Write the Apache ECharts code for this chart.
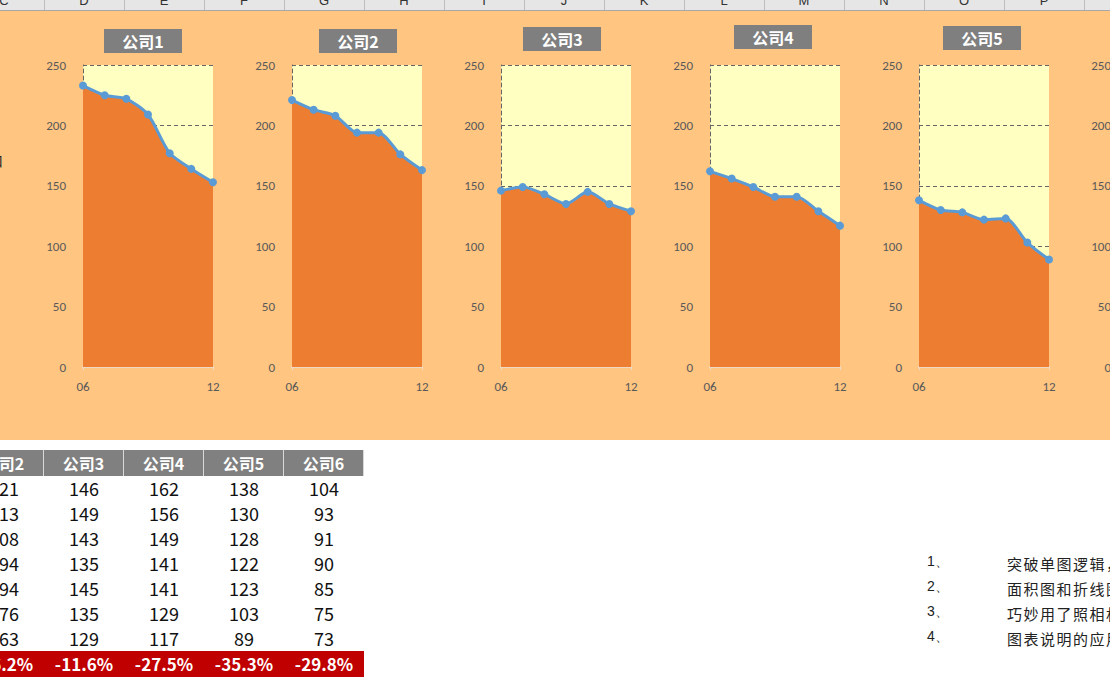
<!DOCTYPE html>
<html><head><meta charset="utf-8">
<script src="https://cdn.jsdelivr.net/npm/echarts@6/dist/echarts.min.js"></script>
<style>
html,body{margin:0;padding:0;width:1110px;height:694px;overflow:hidden;background:#fff;font-family:"Noto Sans CJK SC","Noto Sans",sans-serif;}
#hdr{position:absolute;left:0;top:0;width:1110px;height:10px;background:#E6E6E6;border-bottom:1px solid #A8A8A8;overflow:hidden;}
#hdr span{position:absolute;top:-7px;font:13px "Liberation Sans",Arial,sans-serif;color:#333;width:80px;text-align:center;}
#hdr i{position:absolute;top:0;width:1px;height:10px;background:#BDBDBD;}
#bg{position:absolute;left:0;top:11px;width:1110px;height:429px;background:#FFC581;}
#chart{position:absolute;left:0;top:0;width:1110px;height:440px;}
#tbl{position:absolute;left:0;top:450px;}
.cell{position:absolute;width:80px;text-align:center;white-space:nowrap;}
.hd{height:26px;line-height:26px;background:#808080;color:#fff;font-weight:bold;font-size:16px;border-right:1px solid #d8d8d8;box-sizing:border-box;}
.dt{height:25px;line-height:25px;color:#111;font-size:18px;}
.pc{height:26px;line-height:26px;background:#C00000;color:#fff;font-weight:bold;font-size:17px;}
.note{position:absolute;font-size:15px;color:#222;white-space:nowrap;}
</style></head>
<body>
<div id="hdr"></div>
<div id="bg"></div>
<div style="position:absolute;left:-11px;top:150px;font-size:14px;color:#222;">口</div>
<div id="chart"></div>
<div id="tbl"></div>
<div id="notes"></div>
<script>
// ---- data ----
var colLetters = ['C','D','E','F','G','H','I','J','K','L','M','N','O','P'];
var months = ['06','07','08','09','10','11','12'];
var companies = ['公司1','公司2','公司3','公司4','公司5','公司6'];
var s1 = [233, 225, 222, 209, 177, 164, 153];
var s2 = [221, 213, 208, 194, 194, 176, 163];
var s3 = [146, 149, 143, 135, 145, 135, 129];
var s4 = [162, 156, 149, 141, 141, 129, 117];
var s5 = [138, 130, 128, 122, 123, 103, 89];
var s6 = [104, 93, 91, 90, 85, 75, 73];
var pctLabels = ['-34.3%','-26.2%','-11.6%','-27.5%','-35.3%','-29.8%'];
var yTicks = [0, 50, 100, 150, 200, 250];
var notes = ['突破单图逻辑，多图组合展示','面积图和折线图组合','巧妙用了照相机功能','图表说明的应用'];
var allSeries = [s1, s2, s3, s4, s5, s6];

// ---- layout (styles / positions) ----
var gridLeft0 = 83, gridStep = 209, gridTop = 65, gridW = 130, gridH = 302;
var titleBoxes = [[104,29],[319,29],[523,27],[734,25],[943,26],[1152,26]];
var pctBoxes = [[112,324],[319,325],[530,324],[734,330],[947,331],[1156,331]];

// column header
var hdr = document.getElementById('hdr');
colLetters.forEach(function(l, i){
  var s = document.createElement('span'); s.textContent = l; s.style.left = (4 + 80*i - 40) + 'px'; hdr.appendChild(s);
  var b = document.createElement('i'); b.style.left = (44 + 80*i) + 'px'; hdr.appendChild(b);
});

// charts
var chart = echarts.init(document.getElementById('chart'), null, {renderer:'svg'});
var grids = [], xAxes = [], yAxes = [], series = [], graphics = [];
allSeries.forEach(function(data, i){
  var left = gridLeft0 + gridStep*i;
  grids.push({left:left, top:gridTop, width:gridW, height:gridH, show:true, backgroundColor:'#FFFFC1', borderWidth:0, containLabel:false});
  xAxes.push({type:'category', gridIndex:i, data:months, boundaryGap:false,
    axisLine:{lineStyle:{color:'#EDD9C4', width:2}},
    axisTick:{show:true, alignWithLabel:true, length:3, lineStyle:{color:'#EDD9C4'}},
    axisLabel:{color:'#595959', fontSize:13, margin:13, fontFamily:'Carlito, Liberation Sans, Arial',
      interval:function(idx){return idx===0 || idx===months.length-1;}}
  });
  yAxes.push({type:'value', gridIndex:i, min:yTicks[0], max:yTicks[yTicks.length-1], interval:50,
    axisLine:{show:true, lineStyle:{color:'#666666', type:[4,3], width:1}},
    axisTick:{show:false},
    splitLine:{show:true, lineStyle:{color:'#666666', type:[4,3], width:1}},
    axisLabel:{color:'#595959', fontSize:13, margin:17, fontFamily:'Carlito, Liberation Sans, Arial'}
  });
  series.push({type:'line', xAxisIndex:i, yAxisIndex:i, data:data, smooth:0.25,
    symbol:'circle', symbolSize:8, showSymbol:true,
    lineStyle:{color:'#5B9BD5', width:3},
    itemStyle:{color:'#5B9BD5'},
    areaStyle:{color:'#ED7D31', opacity:1},
    z:3
  });
  var tb = titleBoxes[i];
  graphics.push({type:'group', left:tb[0], top:tb[1], z:10, children:[
    {type:'rect', shape:{x:0,y:0,width:78,height:24}, style:{fill:'#7F7F7F'}},
    {type:'text', x:39, y:12, style:{text:companies[i], fill:'#fff', font:'bold 16px "Noto Sans CJK SC"', textAlign:'center', textVerticalAlign:'middle'}}
  ]});
  var pb = pctBoxes[i];
  graphics.push({type:'group', left:pb[0], top:pb[1], z:10, children:[
    {type:'rect', shape:{x:0,y:0,width:79,height:25}, style:{fill:'#C00000'}},
    {type:'text', x:39.5, y:12.5, style:{text:pctLabels[i], fill:(i===0?'#FFFF00':'#fff'), font:'bold 15px "Noto Sans CJK SC"', textAlign:'center', textVerticalAlign:'middle'}}
  ]});
});
chart.setOption({
  animation:false,
  backgroundColor:'transparent',
  grid:grids, xAxis:xAxes, yAxis:yAxes, series:series, graphic:graphics
});

// table (columns C..G showing 公司2..公司6)
var tbl = document.getElementById('tbl');
function cell(cls, txt, x, y){
  var d = document.createElement('div'); d.className = 'cell ' + cls; d.textContent = txt;
  d.style.left = x + 'px'; d.style.top = y + 'px'; tbl.appendChild(d);
}
for (var c = 1; c < 6; c++) {
  var x = -36 + 80*(c-1);
  cell('hd', companies[c], x, 0);
  allSeries[c].forEach(function(v, r){ cell('dt', String(v), x, 26 + 25*r); });
  cell('pc', pctLabels[c], x, 201);
}

// notes
var nd = document.getElementById('notes');
notes.forEach(function(t, i){
  var y = 553 + 25*i;
  var a = document.createElement('div'); a.className='note'; a.style.left='927px'; a.style.top=y+'px';
  a.style.fontFamily='"Liberation Sans",Arial'; a.style.fontSize='14px'; a.textContent=(i+1)+'、'; nd.appendChild(a);
  var b = document.createElement('div'); b.className='note'; b.style.left='1007px'; b.style.top=y+'px';
  b.style.letterSpacing='1.5px'; b.textContent=t; nd.appendChild(b);
});
</script>
</body></html>
